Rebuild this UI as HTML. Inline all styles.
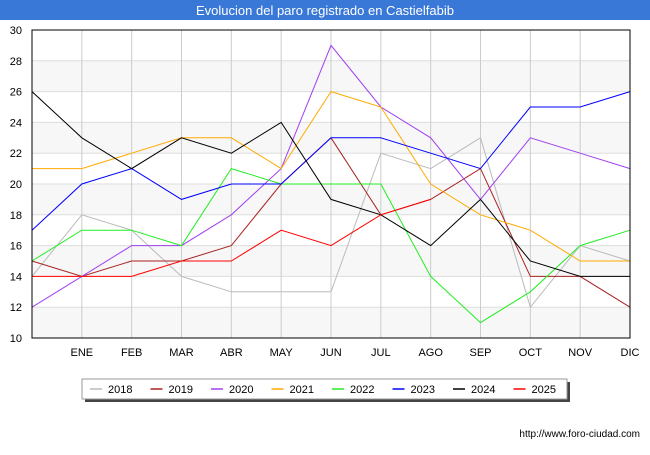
<!DOCTYPE html>
<html><head><meta charset="utf-8"><style>
body{margin:0;width:650px;height:450px;background:#fff;font-family:"Liberation Sans",sans-serif;overflow:hidden}
</style></head><body>
<svg id="c" width="650" height="450" xmlns="http://www.w3.org/2000/svg">
<rect x="0" y="0" width="650" height="20" fill="#3a78d8"/>
<text x="325" y="15" text-anchor="middle" fill="#fff" font-size="13">Evolucion del paro registrado en Castielfabib</text>
<g id="grid"></g><g id="series"></g>
<rect x="32" y="30" width="598" height="308" fill="none" stroke="#000" stroke-width="1"/>
<rect x="85" y="382" width="485" height="20" fill="#444"/>
<rect x="82" y="379" width="485" height="20" fill="#fff" stroke="#999"/>
<g id="legend"></g>
<text x="640" y="437" text-anchor="end" font-size="10" fill="#000">http://www.foro-ciudad.com</text>
</svg>
<script>
const months=["","ENE","FEB","MAR","ABR","MAY","JUN","JUL","AGO","SEP","OCT","NOV","DIC"];
const yTicks=[10,12,14,16,18,20,22,24,26,28,30];
const years=["2018","2019","2020","2021","2022","2023","2024","2025"];
const colors=["#bbbbbb","#aa2222","#a040f0","#ffaa00","#22ee22","#0000ff","#000000","#ff0000"];
const s2018=[14,18,17,14,13,13,13,22,21,23,12,16,15];
const s2019=[15,14,15,15,16,20,23,18,19,21,14,14,12];
const s2020=[12,14,16,16,18,21,29,25,23,19,23,22,21];
const s2021=[21,21,22,23,23,21,26,25,20,18,17,15,15];
const s2022=[15,17,17,16,21,20,20,20,14,11,13,16,17];
const s2023=[17,20,21,19,20,20,23,23,22,21,25,25,26];
const s2024=[26,23,21,23,22,24,19,18,16,19,15,14,14];
const s2025=[14,14,14,15,15,17,16,18,19];
const allSeries=[s2018,s2019,s2020,s2021,s2022,s2023,s2024,s2025];
const X=i=>32+i*(598/12), Y=v=>338-(v-10)*(308/20);
const NS="http://www.w3.org/2000/svg";
function mk(t,a,p){const e=document.createElementNS(NS,t);for(const k in a)e.setAttribute(k,a[k]);p.appendChild(e);return e;}
const g=document.getElementById('grid');
for(let i=0;i<yTicks.length-1;i++){if(i%2==0){const b=mk('rect',{x:32,y:Y(yTicks[i+1]),width:598,height:Y(yTicks[i])-Y(yTicks[i+1]),fill:'#f7f7f7'},g);

}}
yTicks.forEach(v=>{const l=mk('line',{x1:32,x2:630,y1:Y(v),y2:Y(v),stroke:'#ddd'},g);


const t=mk('text',{x:22,y:Y(v)+4,'text-anchor':'end','font-size':11},g);t.textContent=v;

});
months.forEach((m,i)=>{const l=mk('line',{x1:X(i),x2:X(i),y1:30,y2:338,stroke:'#ccc'},g);


if(m){const t=mk('text',{x:X(i),y:356,'text-anchor':'middle','font-size':11},g);t.textContent=m;

}});
const sg=document.getElementById('series');
allSeries.forEach((s,k)=>{const p=mk('polyline',{points:s.map((v,i)=>X(i)+','+Y(v)).join(' '),fill:'none',stroke:colors[k],'stroke-width':1},sg);

});
const lg=document.getElementById('legend');
years.forEach((y,k)=>{const x0=90+k*60.5;
const l=mk('line',{x1:x0,x2:x0+12,y1:389,y2:389,stroke:colors[k],'stroke-width':1.5},lg);


const t=mk('text',{x:x0+18,y:393,'font-size':11},lg);t.textContent=y;

});
</script>
</body></html>
